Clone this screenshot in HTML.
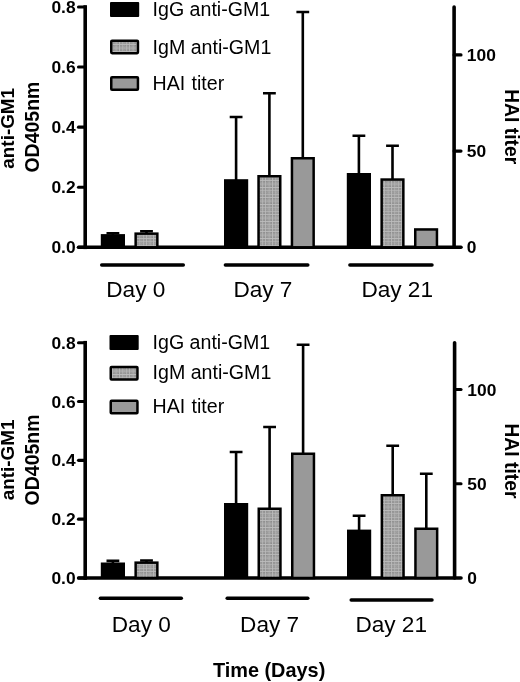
<!DOCTYPE html>
<html><head><meta charset="utf-8"><title>Figure</title>
<style>
html,body{margin:0;padding:0;background:#fff;}
body{width:520px;height:682px;overflow:hidden;}
svg{display:block;filter:grayscale(1);}
text{font-family:"Liberation Sans",sans-serif;fill:#000;}
.tk{font-size:17.4px;font-weight:bold;}
.tt{font-size:19.5px;font-weight:bold;}
.day{font-size:22.6px;}
.lg{font-size:19.6px;}
</style></head><body>
<svg width="520" height="682" viewBox="0 0 520 682">
<defs>
<pattern id="grid" width="3.4" height="3.4" patternUnits="userSpaceOnUse">
<rect width="3.4" height="3.4" fill="#888888"/>
<path d="M0 2.2 H3.4 M2.2 0 V3.4" stroke="#9e9e9e" stroke-width="0.8"/>
<path d="M0 0.5 H3.4 M0.5 0 V3.4" stroke="#bcbcbc" stroke-width="0.9"/>
</pattern>
</defs>
<rect width="520" height="682" fill="#fff"/>
<path d="M85.2 7.0 V247.3" stroke="#000" stroke-width="3.6" stroke-linecap="square" fill="none"/>
<path d="M78.6 247.3 H461" stroke="#000" stroke-width="3.6" stroke-linecap="round" fill="none"/>
<path d="M454.1 7.0 V247.3" stroke="#000" stroke-width="3.6" stroke-linecap="round" fill="none"/>
<path d="M78.5 247.30 H85.2" stroke="#000" stroke-width="3.1" stroke-linecap="round"/>
<text x="75.6" y="253.40" text-anchor="end" class="tk">0.0</text>
<path d="M78.5 187.23 H85.2" stroke="#000" stroke-width="3.1" stroke-linecap="round"/>
<text x="75.6" y="193.33" text-anchor="end" class="tk">0.2</text>
<path d="M78.5 127.15 H85.2" stroke="#000" stroke-width="3.1" stroke-linecap="round"/>
<text x="75.6" y="133.25" text-anchor="end" class="tk">0.4</text>
<path d="M78.5 67.07 H85.2" stroke="#000" stroke-width="3.1" stroke-linecap="round"/>
<text x="75.6" y="73.17" text-anchor="end" class="tk">0.6</text>
<path d="M78.5 7.00 H85.2" stroke="#000" stroke-width="3.1" stroke-linecap="round"/>
<text x="75.6" y="13.10" text-anchor="end" class="tk">0.8</text>
<text x="466.8" y="253.40" class="tk">0</text>
<path d="M454.1 151.10 H461" stroke="#000" stroke-width="3.1" stroke-linecap="round"/>
<text x="466.8" y="157.20" class="tk">50</text>
<path d="M454.1 54.90 H461" stroke="#000" stroke-width="3.1" stroke-linecap="round"/>
<text x="466.8" y="61.00" class="tk">100</text>
<path d="M112.90 235.1 V233.30 M106.50 233.30 H119.30" stroke="#000" stroke-width="2.6" fill="none"/>
<rect x="100.8" y="234.1" width="24.2" height="13.20" fill="#000"/>
<path d="M146.50 233.4 V231.20 M140.10 231.20 H152.90" stroke="#000" stroke-width="2.6" fill="none"/>
<rect x="135.65" y="233.65" width="21.7" height="13.65" fill="url(#grid)" stroke="#000" stroke-width="2.5"/>
<path d="M236.10 180.2 V117.00 M229.70 117.00 H242.50" stroke="#000" stroke-width="2.6" fill="none"/>
<rect x="224" y="179.2" width="24.2" height="68.10" fill="#000"/>
<path d="M269.40 176 V93.20 M263.00 93.20 H275.80" stroke="#000" stroke-width="2.6" fill="none"/>
<rect x="258.55" y="176.25" width="21.7" height="71.05" fill="url(#grid)" stroke="#000" stroke-width="2.5"/>
<path d="M302.80 158 V12.00 M296.40 12.00 H309.20" stroke="#000" stroke-width="2.6" fill="none"/>
<rect x="291.95" y="158.25" width="21.7" height="89.05" fill="#999" stroke="#000" stroke-width="2.5"/>
<path d="M358.90 174 V135.70 M352.50 135.70 H365.30" stroke="#000" stroke-width="2.6" fill="none"/>
<rect x="346.8" y="173" width="24.2" height="74.30" fill="#000"/>
<path d="M392.50 179.3 V145.70 M386.10 145.70 H398.90" stroke="#000" stroke-width="2.6" fill="none"/>
<rect x="381.65" y="179.55" width="21.7" height="67.75" fill="url(#grid)" stroke="#000" stroke-width="2.5"/>
<rect x="415.25" y="229.45" width="21.7" height="17.85" fill="#999" stroke="#000" stroke-width="2.5"/>
<path d="M101.7 264.9 H183.3" stroke="#000" stroke-width="3.5" stroke-linecap="round"/>
<text x="106.3" y="297.1" class="day">Day 0</text>
<path d="M225.39999999999998 264.9 H307.8" stroke="#000" stroke-width="3.5" stroke-linecap="round"/>
<text x="233.4" y="297.2" class="day">Day 7</text>
<path d="M349.9 264.9 H432.0" stroke="#000" stroke-width="3.5" stroke-linecap="round"/>
<text x="361.4" y="297.2" class="day">Day 21</text>
<rect x="110" y="1.9" width="29.2" height="15" rx="1" fill="#000"/>
<text x="152.6" y="15.6" class="lg">IgG anti-GM1</text>
<rect x="111.25" y="40.65" width="26.7" height="12.5" rx="0.8" fill="url(#grid)" stroke="#000" stroke-width="2.5"/>
<text x="152.6" y="54" class="lg">IgM anti-GM1</text>
<rect x="111.25" y="77.25" width="26.7" height="12.5" rx="0.8" fill="#999" stroke="#000" stroke-width="2.5"/>
<text x="152.6" y="90.3" class="lg" word-spacing="0.8">HAI titer</text>
<text transform="translate(14.4 128.3) rotate(-90)" text-anchor="middle" class="tt" style="font-size:18.9px">anti-GM1</text>
<text transform="translate(39 127.1) rotate(-90)" text-anchor="middle" class="tt">OD405nm</text>
<text transform="translate(505.3 89.19999999999999) rotate(90)" class="tt" style="font-size:19.3px">HAI titer</text>
<path d="M85.2 342.7 V578.0" stroke="#000" stroke-width="3.6" stroke-linecap="square" fill="none"/>
<path d="M78.6 578.0 H461" stroke="#000" stroke-width="3.6" stroke-linecap="round" fill="none"/>
<path d="M454.6 342.7 V578.0" stroke="#000" stroke-width="3.6" stroke-linecap="round" fill="none"/>
<path d="M78.5 578.00 H85.2" stroke="#000" stroke-width="3.1" stroke-linecap="round"/>
<text x="75.6" y="584.10" text-anchor="end" class="tk">0.0</text>
<path d="M78.5 519.17 H85.2" stroke="#000" stroke-width="3.1" stroke-linecap="round"/>
<text x="75.6" y="525.27" text-anchor="end" class="tk">0.2</text>
<path d="M78.5 460.35 H85.2" stroke="#000" stroke-width="3.1" stroke-linecap="round"/>
<text x="75.6" y="466.45" text-anchor="end" class="tk">0.4</text>
<path d="M78.5 401.52 H85.2" stroke="#000" stroke-width="3.1" stroke-linecap="round"/>
<text x="75.6" y="407.62" text-anchor="end" class="tk">0.6</text>
<path d="M78.5 342.70 H85.2" stroke="#000" stroke-width="3.1" stroke-linecap="round"/>
<text x="75.6" y="348.80" text-anchor="end" class="tk">0.8</text>
<text x="467.3" y="584.10" class="tk">0</text>
<path d="M454.6 483.75 H461" stroke="#000" stroke-width="3.1" stroke-linecap="round"/>
<text x="467.3" y="489.85" class="tk">50</text>
<path d="M454.6 389.50 H461" stroke="#000" stroke-width="3.1" stroke-linecap="round"/>
<text x="467.3" y="395.60" class="tk">100</text>
<path d="M112.90 563.5 V560.90 M106.50 560.90 H119.30" stroke="#000" stroke-width="2.6" fill="none"/>
<rect x="100.8" y="562.5" width="24.2" height="15.50" fill="#000"/>
<path d="M146.50 562.4 V560.50 M140.10 560.50 H152.90" stroke="#000" stroke-width="2.6" fill="none"/>
<rect x="135.65" y="562.65" width="21.7" height="15.35" fill="url(#grid)" stroke="#000" stroke-width="2.5"/>
<path d="M236.10 504 V452.00 M229.70 452.00 H242.50" stroke="#000" stroke-width="2.6" fill="none"/>
<rect x="224" y="503" width="24.2" height="75.00" fill="#000"/>
<path d="M269.60 508.5 V427.00 M263.20 427.00 H276.00" stroke="#000" stroke-width="2.6" fill="none"/>
<rect x="258.75" y="508.75" width="21.7" height="69.25" fill="url(#grid)" stroke="#000" stroke-width="2.5"/>
<path d="M303.10 453.5 V344.70 M296.70 344.70 H309.50" stroke="#000" stroke-width="2.6" fill="none"/>
<rect x="292.25" y="453.75" width="21.7" height="124.25" fill="#999" stroke="#000" stroke-width="2.5"/>
<path d="M359.10 530.6 V515.80 M352.70 515.80 H365.50" stroke="#000" stroke-width="2.6" fill="none"/>
<rect x="347" y="529.6" width="24.2" height="48.40" fill="#000"/>
<path d="M392.70 495 V445.80 M386.30 445.80 H399.10" stroke="#000" stroke-width="2.6" fill="none"/>
<rect x="381.85" y="495.25" width="21.7" height="82.75" fill="url(#grid)" stroke="#000" stroke-width="2.5"/>
<path d="M426.30 528.5 V473.80 M419.90 473.80 H432.70" stroke="#000" stroke-width="2.6" fill="none"/>
<rect x="415.45" y="528.75" width="21.7" height="49.25" fill="#999" stroke="#000" stroke-width="2.5"/>
<path d="M100.4 598.2 H181.3" stroke="#000" stroke-width="3.5" stroke-linecap="round"/>
<text x="111.8" y="632.3" class="day">Day 0</text>
<path d="M227.2 598.2 H307.8" stroke="#000" stroke-width="3.5" stroke-linecap="round"/>
<text x="240.1" y="632.3" class="day">Day 7</text>
<path d="M351.2 599.9 H432.0" stroke="#000" stroke-width="3.5" stroke-linecap="round"/>
<text x="355.4" y="631.9" class="day">Day 21</text>
<rect x="109.5" y="335" width="29.2" height="15" rx="1" fill="#000"/>
<text x="152.6" y="349.2" class="lg">IgG anti-GM1</text>
<rect x="110.75" y="367.05" width="26.7" height="12.5" rx="0.8" fill="url(#grid)" stroke="#000" stroke-width="2.5"/>
<text x="152.6" y="379.2" class="lg">IgM anti-GM1</text>
<rect x="110.75" y="400.85" width="26.7" height="12.5" rx="0.8" fill="#999" stroke="#000" stroke-width="2.5"/>
<text x="152.6" y="413.4" class="lg" word-spacing="0.8">HAI titer</text>
<text transform="translate(14.4 459.9) rotate(-90)" text-anchor="middle" class="tt" style="font-size:18.9px">anti-GM1</text>
<text transform="translate(39 459.9) rotate(-90)" text-anchor="middle" class="tt">OD405nm</text>
<text transform="translate(505.3 423.40000000000003) rotate(90)" class="tt" style="font-size:19.3px">HAI titer</text>
<text x="269.1" y="677.1" text-anchor="middle" class="tt" style="font-size:19.9px">Time (Days)</text>
</svg>
</body></html>
